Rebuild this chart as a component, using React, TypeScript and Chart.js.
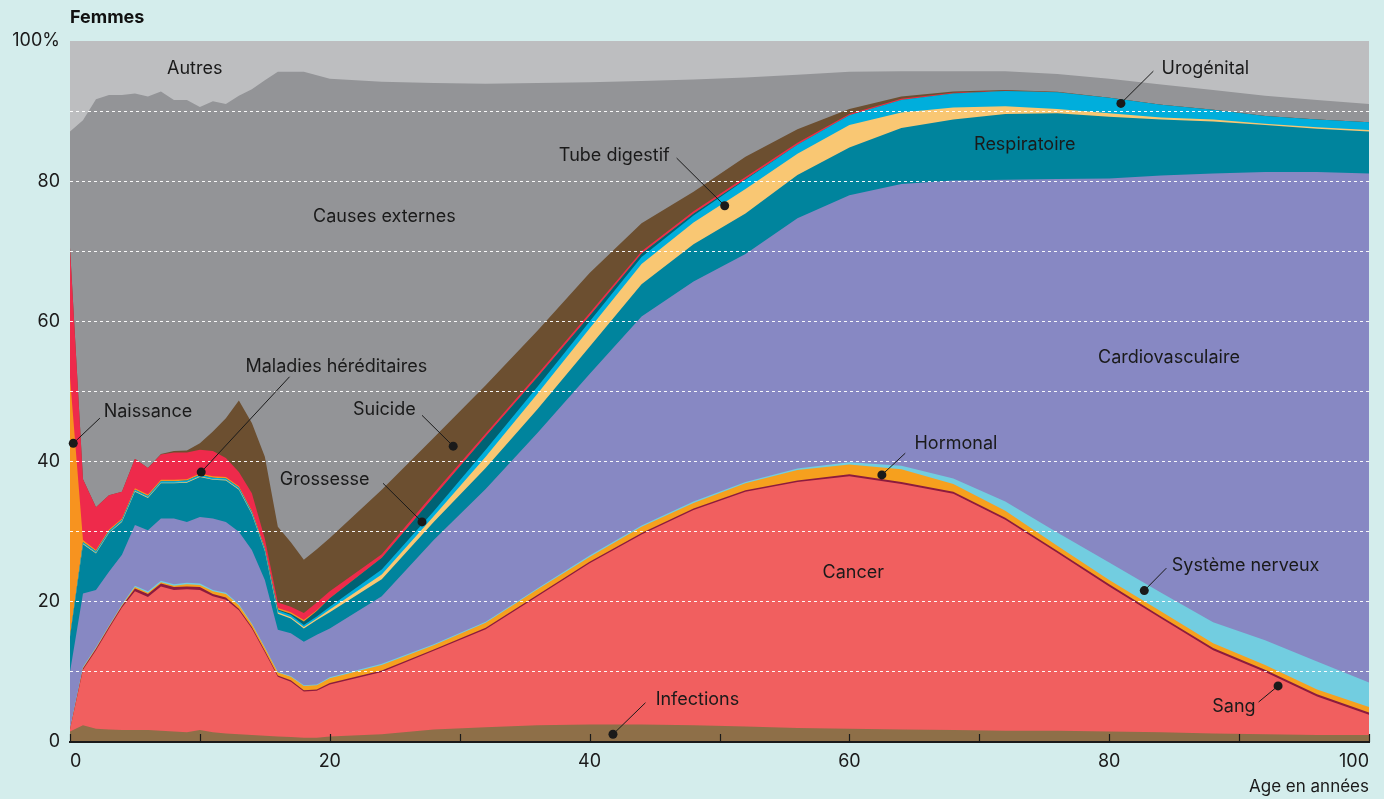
import React, { useEffect, useRef } from 'react';
import { Chart, registerables } from 'chart.js';

Chart.register(...registerables);

const FONT = "Inter, 'Noto Sans', 'DejaVu Sans', sans-serif";

// Age (years) at which each share is read
const ages = [0, 1, 2, 3, 4, 5, 6, 7, 8, 9, 10, 11, 12, 13, 14, 15, 16, 17, 18, 19,
  20, 24, 28, 32, 36, 40, 44, 48, 52, 56, 60, 64, 68, 72, 76, 80, 84, 88, 92, 96, 100];

// Share of deaths (%) by cause, women
const infections = [1.5, 2.4, 1.9, 1.8, 1.7, 1.7, 1.7, 1.6, 1.5, 1.4, 1.7, 1.4, 1.2, 1.1, 1.0, 0.9, 0.8, 0.7, 0.6, 0.6,
  0.8, 1.1, 1.8, 2.1, 2.4, 2.5, 2.5, 2.4, 2.2, 2.0, 1.9, 1.8, 1.7, 1.6, 1.6, 1.5, 1.4, 1.2, 1.1, 1.0, 1.0];
const cancer = [0.3, 7.9, 11.2, 14.4, 17.5, 19.8, 19.0, 20.6, 20.2, 20.4, 20.0, 19.4, 19.1, 17.7, 15.2, 11.9, 8.5, 7.9, 6.6, 6.7,
  7.4, 8.9, 11.2, 14.0, 18.4, 23.0, 27.1, 30.7, 33.5, 35.1, 36.0, 35.0, 33.7, 30.1, 25.4, 20.7, 16.2, 11.9, 8.9, 5.5, 2.9];
const sang = [0, 0.2, 0.2, 0.2, 0.2, 0.4, 0.4, 0.4, 0.4, 0.4, 0.4, 0.3, 0.3, 0.2, 0.2, 0.2, 0.2, 0.2, 0.2, 0.2,
  0.2, 0.2, 0.2, 0.2, 0.2, 0.2, 0.2, 0.2, 0.2, 0.2, 0.3, 0.3, 0.3, 0.3, 0.3, 0.3, 0.3, 0.3, 0.3, 0.3, 0.3];
const hormonal = [0, 0.1, 0.1, 0.1, 0.1, 0.2, 0.2, 0.2, 0.2, 0.3, 0.3, 0.4, 0.5, 0.5, 0.4, 0.4, 0.4, 0.5, 0.6, 0.6,
  0.7, 0.8, 0.6, 0.7, 0.8, 0.7, 0.9, 0.8, 1.0, 1.5, 1.4, 1.8, 1.1, 1.0, 0.7, 0.6, 0.7, 0.7, 0.7, 0.7, 0.8];
const nerveux = [0.2, 0.1, 0.1, 0.1, 0.1, 0.2, 0.2, 0.2, 0.2, 0.2, 0.2, 0.2, 0.2, 0.2, 0.1, 0.1, 0.1, 0.1, 0.1, 0.1,
  0.15, 0.15, 0.15, 0.15, 0.15, 0.2, 0.2, 0.2, 0.2, 0.2, 0.3, 0.5, 0.8, 1.3, 1.9, 2.5, 2.7, 3.0, 3.5, 4.0, 3.5];
const cardio = [8.0, 10.5, 8.2, 7.7, 7.1, 8.65, 8.7, 8.9, 9.4, 8.7, 9.5, 10.2, 10.1, 10.3, 10.5, 9.6, 6.0, 6.1, 6.2, 7.1,
  6.95, 9.65, 14.85, 18.95, 22.15, 25.9, 29.8, 31.4, 32.5, 35.7, 38.1, 40.2, 42.5, 45.9, 50.4, 54.8, 59.5, 64.0, 66.8, 69.8, 72.6];
const respiratoire = [5.0, 7.0, 5.2, 5.5, 4.7, 4.75, 4.6, 5.0, 5.0, 5.6, 5.7, 5.5, 5.9, 6.0, 5.1, 4.1, 2.3, 2.1, 1.9, 2.1,
  2.3, 2.4, 2.6, 3.0, 3.4, 3.9, 4.6, 5.3, 5.8, 6.2, 6.8, 8.0, 8.7, 9.4, 9.4, 8.8, 8.0, 7.4, 6.7, 6.2, 6.0];
const digestif = [0, 0.1, 0.1, 0.1, 0.1, 0.1, 0.1, 0.1, 0.1, 0.1, 0.1, 0.1, 0.1, 0.1, 0.1, 0.1, 0.2, 0.2, 0.2, 0.2,
  0.4, 0.7, 0.8, 1.6, 2.2, 2.6, 2.9, 3.1, 3.5, 3.0, 3.2, 2.2, 1.7, 1.1, 0.6, 0.5, 0.3, 0.3, 0.2, 0.2, 0.2];
const urogenital = [0, 0.2, 0.2, 0.2, 0.2, 0.2, 0.2, 0.2, 0.2, 0.2, 0.2, 0.2, 0.2, 0.2, 0.2, 0.2, 0.3, 0.3, 0.3, 0.3,
  0.4, 0.7, 0.7, 1.0, 1.0, 1.0, 1.0, 1.0, 1.3, 1.3, 1.4, 1.8, 2.0, 2.15, 2.4, 2.2, 1.8, 1.4, 1.1, 1.1, 1.1];
const grossesse = [0, 0, 0, 0, 0, 0, 0, 0, 0, 0, 0, 0, 0, 0, 0, 0, 0.1, 0.2, 0.5, 0.8,
  1.2, 1.7, 2.1, 1.9, 1.4, 0.8, 0.5, 0.3, 0.1, 0, 0, 0, 0, 0, 0, 0, 0, 0, 0, 0, 0];
const naissance = [37.0, 0.3, 0.2, 0.2, 0.2, 0.2, 0.2, 0.2, 0.2, 0.2, 0.2, 0.2, 0.2, 0.2, 0.2, 0.2, 0.2, 0.2, 0.2, 0.1,
  0, 0, 0, 0, 0, 0, 0, 0, 0, 0, 0, 0, 0, 0, 0, 0, 0, 0, 0, 0, 0];
const hereditaires = [18.5, 8.7, 6.1, 4.9, 3.8, 4.2, 3.8, 3.6, 3.9, 3.8, 3.4, 3.6, 2.7, 2.0, 2.5, 1.3, 0.8, 0.8, 1.0, 1.1,
  1.0, 0.5, 0.5, 0.4, 0.4, 0.4, 0.3, 0.3, 0.3, 0.3, 0.2, 0.15, 0.1, 0.05, 0, 0, 0, 0, 0, 0, 0];
const suicide = [0, 0, 0, 0, 0, 0, 0, 0.1, 0.2, 0.3, 0.9, 2.8, 5.7, 10.2, 10.0, 11.7, 10.8, 9.2, 7.6, 7.6,
  7.6, 9.2, 7.9, 6.9, 6.2, 5.7, 4.0, 2.8, 2.9, 1.9, 0.7, 0.35, 0.2, 0.1, 0.05, 0, 0, 0, 0, 0, 0];
const externes = [16.6, 51.2, 58.2, 57.1, 56.6, 52.1, 53.0, 51.7, 50.1, 50.0, 48.0, 47.1, 44.8, 43.5, 47.6, 53.7, 64.9, 67.1, 69.6, 67.6,
  65.5, 58.2, 50.6, 43.0, 35.3, 27.2, 20.3, 16.0, 11.3, 7.8, 5.3, 3.6, 2.9, 2.7, 2.55, 2.7, 2.9, 2.8, 2.9, 2.8, 2.6];
const autres = [12.9, 11.3, 8.3, 7.7, 7.7, 7.5, 7.9, 7.2, 8.4, 8.4, 9.4, 8.6, 9.0, 7.8, 6.9, 5.6, 4.4, 4.4, 4.4, 4.9,
  5.4, 5.8, 6.0, 6.1, 6.0, 5.9, 5.7, 5.5, 5.2, 4.8, 4.4, 4.3, 4.3, 4.3, 4.7, 5.4, 6.2, 7.0, 7.8, 8.4, 9.0];

const xTicks = [0, 20, 40, 60, 80, 100];
const yTicks = [0, 20, 40, 60, 80, 100];

const SERIES = [
  { label: 'Infections', data: infections, color: '#8E6F48' },
  { label: 'Cancer', data: cancer, color: '#F15F5F' },
  { label: 'Sang', data: sang, color: '#8C1B3E' },
  { label: 'Hormonal', data: hormonal, color: '#F6A01E' },
  { label: 'Système nerveux', data: nerveux, color: '#72CDE0' },
  { label: 'Cardiovasculaire', data: cardio, color: '#8788C3' },
  { label: 'Respiratoire', data: respiratoire, color: '#00849D' },
  { label: 'Tube digestif', data: digestif, color: '#F9C773' },
  { label: 'Urogénital', data: urogenital, color: '#00AEDC' },
  { label: 'Grossesse', data: grossesse, color: '#006274' },
  { label: 'Naissance', data: naissance, color: '#F7931F' },
  { label: 'Maladies héréditaires', data: hereditaires, color: '#EE2A4B' },
  { label: 'Suicide', data: suicide, color: '#6C4F30' },
  { label: 'Causes externes', data: externes, color: '#939497' },
  { label: 'Autres', data: autres, color: '#BDBEC0' },
];

// Callout labels, placed in data units (age, %)
type Callout = { text: string; at: [number, number]; from?: [number, number]; dot?: [number, number] };
const CALLOUTS: Callout[] = [
  { text: 'Autres', at: [9.6, 96.0] },
  { text: 'Causes externes', at: [24.2, 74.9] },
  { text: 'Maladies héréditaires', at: [20.5, 53.6], from: [16.9, 52.1], dot: [10.1, 38.5] },
  { text: 'Naissance', at: [6.0, 47.1], from: [2.3, 46.2], dot: [0.25, 42.6] },
  { text: 'Suicide', at: [24.2, 47.4], from: [27.1, 46.6], dot: [29.5, 42.2] },
  { text: 'Grossesse', at: [19.6, 37.5], from: [24.1, 36.9], dot: [27.1, 31.4] },
  { text: 'Tube digestif', at: [41.9, 83.6], from: [46.7, 83.3], dot: [50.4, 76.5] },
  { text: 'Respiratoire', at: [73.5, 85.2] },
  { text: 'Urogénital', at: [87.4, 96.1], from: [83.4, 95.7], dot: [80.9, 91.1] },
  { text: 'Cardiovasculaire', at: [84.6, 54.9] },
  { text: 'Hormonal', at: [68.2, 42.5], from: [64.3, 41.2], dot: [62.5, 38.1] },
  { text: 'Cancer', at: [60.3, 24.1] },
  { text: 'Système nerveux', at: [90.5, 25.2], from: [84.4, 24.8], dot: [82.7, 21.6] },
  { text: 'Sang', at: [89.6, 5.1], from: [91.5, 5.7], dot: [93.0, 8.0] },
  { text: 'Infections', at: [48.3, 6.0], from: [44.3, 5.6], dot: [41.8, 1.1] },
];

const overlayPlugin = {
  id: 'overlay',
  afterDraw(chart: any) {
    const { ctx, chartArea } = chart;
    const xs = chart.scales.x;
    const ys = chart.scales.y;
    ctx.save();
    // inward tick marks on the age axis
    ctx.strokeStyle = '#1a1a1a';
    ctx.lineWidth = 1.2;
    for (let a = 0; a <= 100; a += 10) {
      const px = Math.round(xs.getPixelForValue(a)) + 0.5;
      ctx.beginPath();
      ctx.moveTo(px, chartArea.bottom);
      ctx.lineTo(px, chartArea.bottom - 8);
      ctx.stroke();
    }
    // callouts
    ctx.font = `18px ${FONT}`;
    ctx.fillStyle = '#1a1a1a';
    ctx.textAlign = 'center';
    ctx.textBaseline = 'middle';
    ctx.lineWidth = 1;
    for (const c of CALLOUTS) {
      if (c.from && c.dot) {
        const dx = xs.getPixelForValue(c.dot[0]);
        const dy = ys.getPixelForValue(c.dot[1]);
        ctx.beginPath();
        ctx.moveTo(xs.getPixelForValue(c.from[0]), ys.getPixelForValue(c.from[1]));
        ctx.lineTo(dx, dy);
        ctx.stroke();
        ctx.beginPath();
        ctx.arc(dx, dy, 4.5, 0, Math.PI * 2);
        ctx.fill();
      }
      ctx.fillText(c.text, xs.getPixelForValue(c.at[0]), ys.getPixelForValue(c.at[1]));
    }
    ctx.restore();
  },
};

export default function App() {
  const ref = useRef<HTMLCanvasElement | null>(null);

  useEffect(() => {
    if (!ref.current) return;
    Chart.defaults.font.family = FONT;
    const chart = new Chart(ref.current, {
      type: 'line',
      data: {
        datasets: SERIES.map((s) => ({
          label: s.label,
          data: s.data.map((v, i) => ({ x: ages[i], y: v })),
          backgroundColor: s.color,
          borderColor: s.color,
          borderWidth: 0,
          pointRadius: 0,
          fill: 'origin',
          tension: 0,
        })),
      },
      options: {
        responsive: false,
        animation: false,
        events: [],
        layout: { padding: { left: 0, right: 15, top: 41, bottom: 0 } },
        plugins: {
          legend: { display: false },
          tooltip: { enabled: false },
          title: { display: false },
        },
        scales: {
          x: {
            type: 'linear',
            min: 0,
            max: 100,
            afterFit: (s: any) => { s.height = 57; },
            grid: { display: false, drawTicks: false },
            border: { display: true, color: '#1a1a1a', width: 2, z: 2 },
            ticks: {
              stepSize: 20,
              autoSkip: false,
              maxRotation: 0,
              align: 'inner',
              padding: 9,
              color: '#1a1a1a',
              font: { size: 18, family: FONT },
              callback: (v: any) => (xTicks.includes(Number(v)) ? String(v) : ''),
            },
            title: {
              display: true,
              text: 'Age en années',
              align: 'end',
              color: '#1a1a1a',
              font: { size: 17, family: FONT },
              padding: { top: 2, bottom: 2 },
            },
          },
          y: {
            type: 'linear',
            stacked: true,
            min: 0,
            max: 100,
            afterFit: (s: any) => { s.width = 70; },
            grid: {
              z: 1,
              drawTicks: false,
              lineWidth: 1,
              color: (c: any) => (c.tick && (c.tick.value === 0 || c.tick.value === 100) ? 'rgba(0,0,0,0)' : 'rgba(255,255,255,0.95)'),
            },
            border: { display: false, dash: [3, 3] },
            ticks: {
              stepSize: 10,
              autoSkip: false,
              padding: 10,
              color: '#1a1a1a',
              font: { size: 18, family: FONT },
              callback: (v: any) => {
                const n = Number(v);
                if (!yTicks.includes(n)) return '';
                return n === 100 ? '100%' : String(n);
              },
            },
          },
        },
      } as any,
      plugins: [overlayPlugin],
    });
    return () => chart.destroy();
  }, []);

  return (
    <div style={{ position: 'fixed', left: 0, top: 0, width: 1384, height: 799, background: '#D4EDEC', overflow: 'hidden' }}>
      <div style={{ position: 'absolute', left: 70, top: 6, font: `bold 18px ${FONT}`, color: '#111' }}>Femmes</div>
      <canvas ref={ref} width={1384} height={799} style={{ display: 'block', width: 1384, height: 799 }} />
    </div>
  );
}
